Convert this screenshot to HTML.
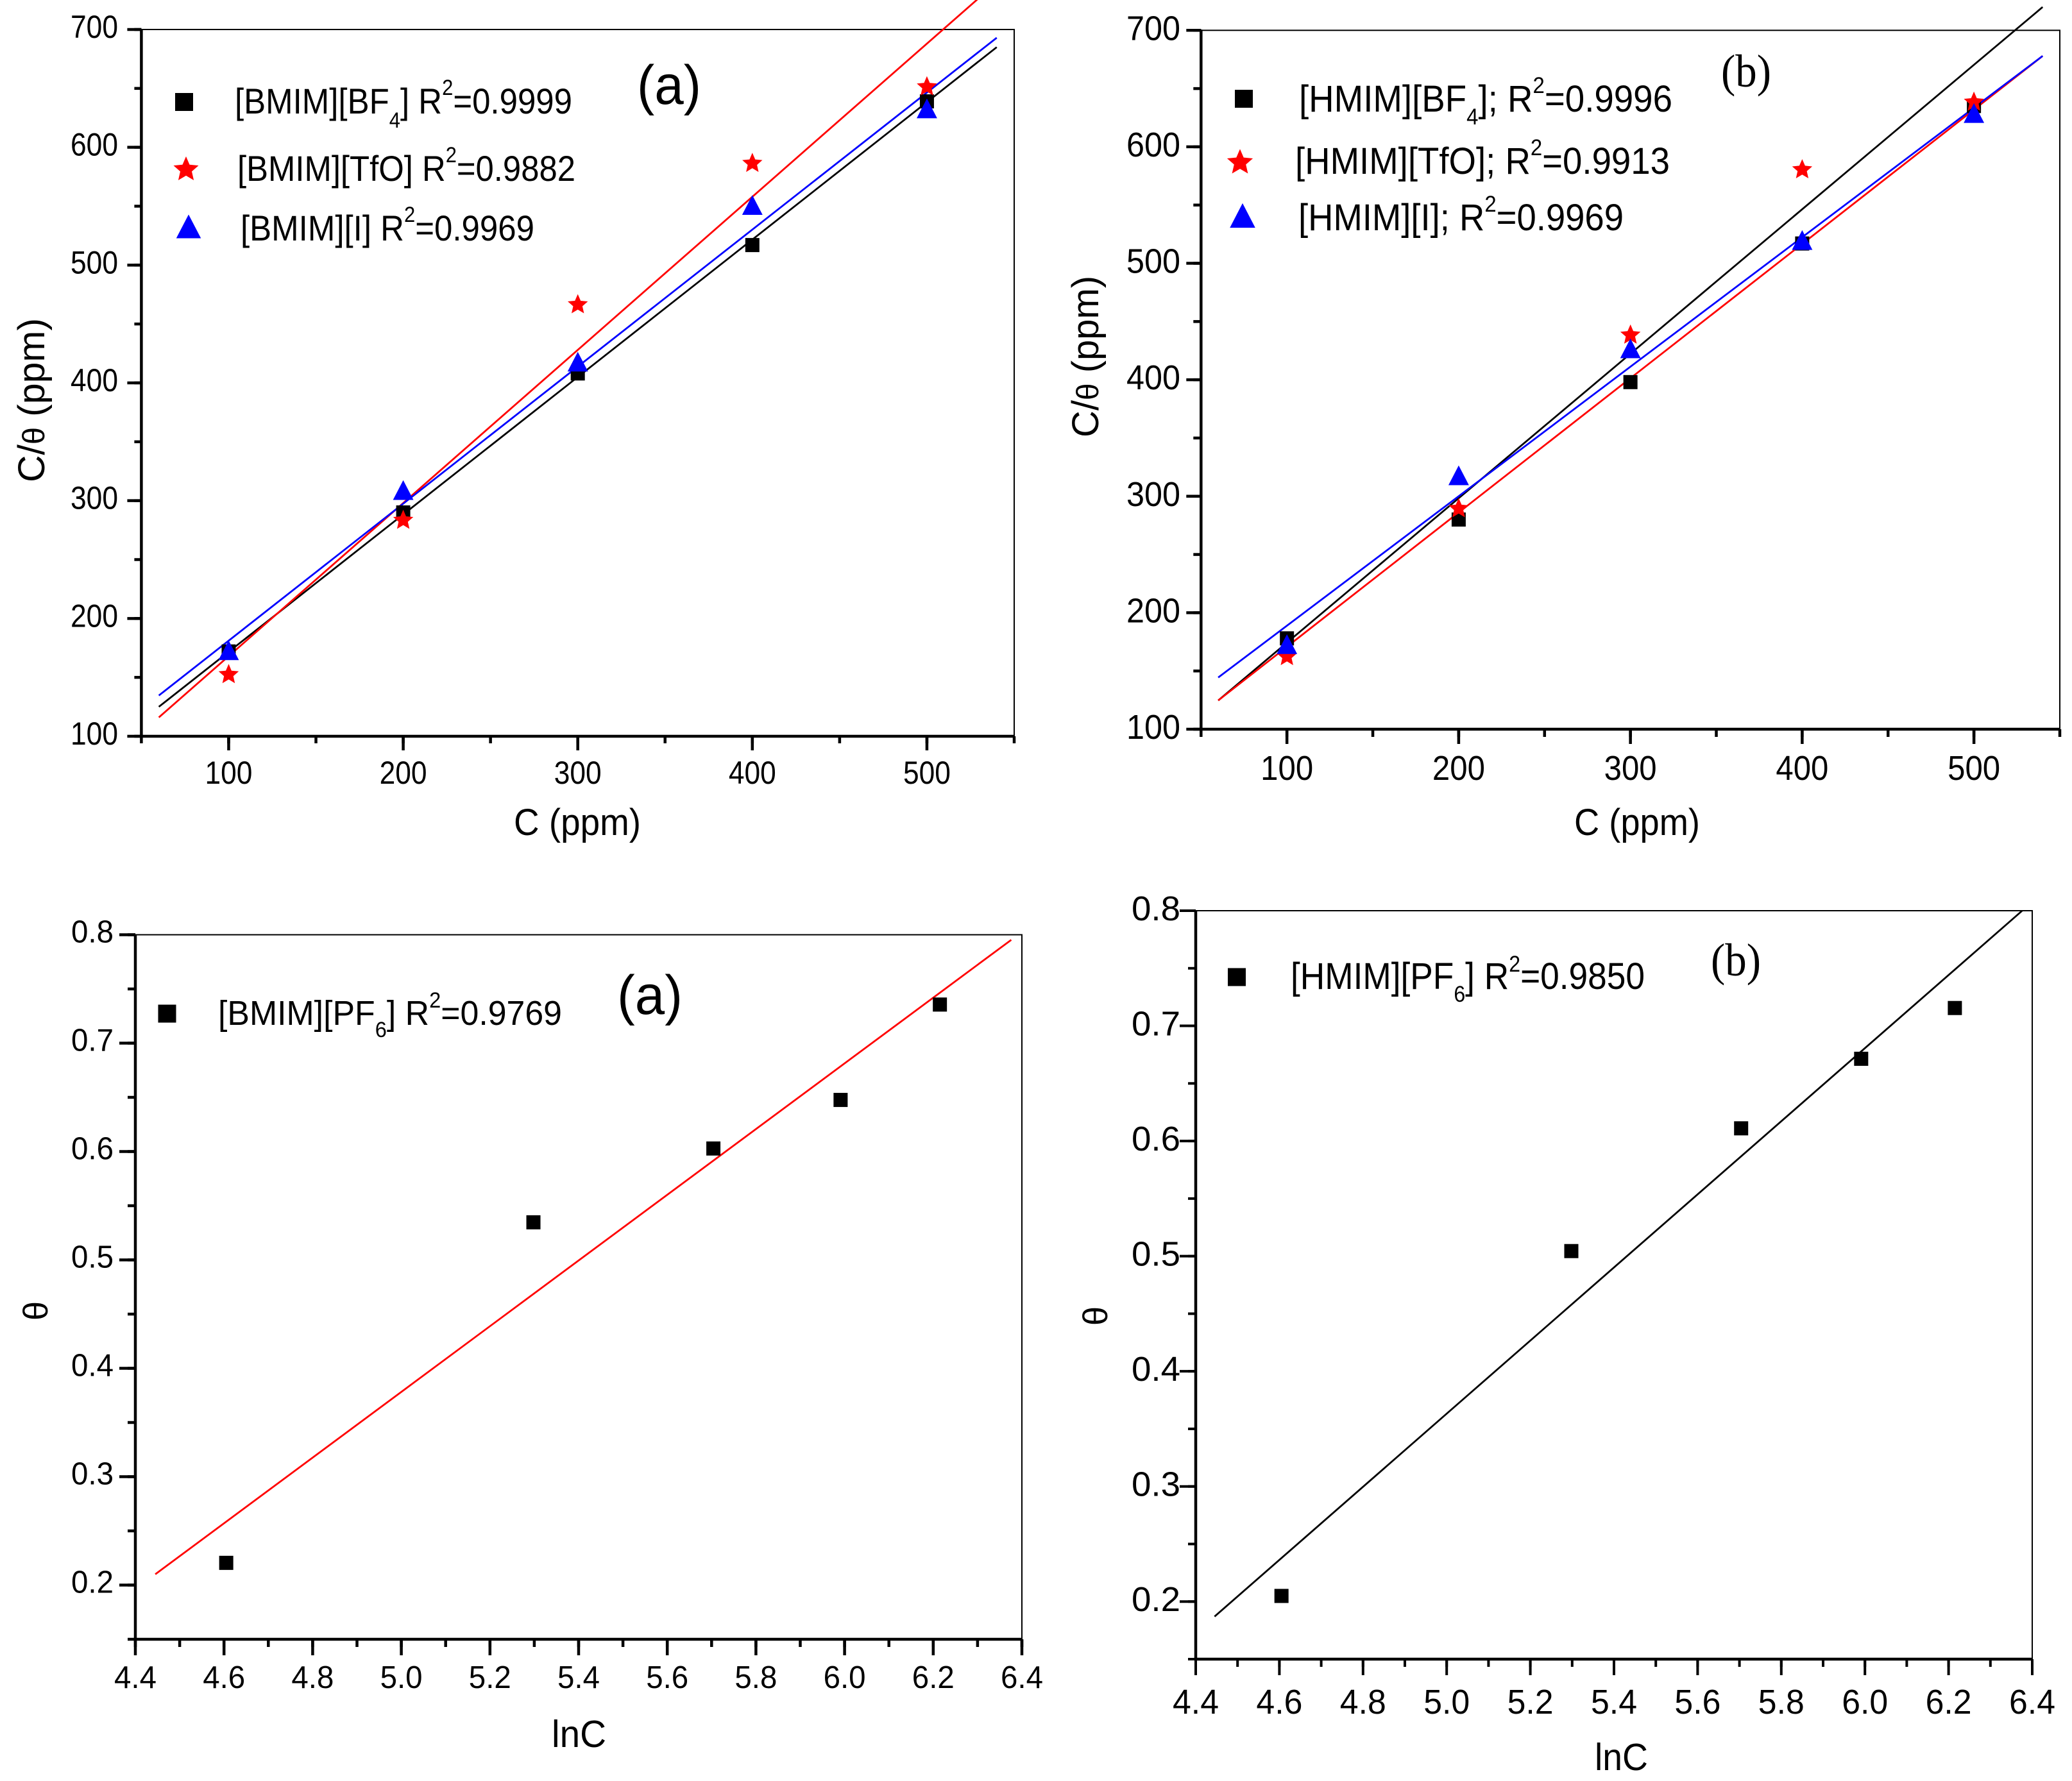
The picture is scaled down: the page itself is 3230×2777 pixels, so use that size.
<!DOCTYPE html>
<html lang="en">
<head>
<meta charset="utf-8">
<title>Adsorption isotherm plots</title>
<style>
html,body{margin:0;padding:0;background:#fff;}
svg{display:block;}
text{font-family:"Liberation Sans",Arial,sans-serif;fill:#000;}
.serif{font-family:"Liberation Serif","Times New Roman",serif;}
</style>
</head>
<body>
<svg id="figure" xmlns="http://www.w3.org/2000/svg" width="3230" height="2777" viewBox="0 0 3230 2777">
  <rect x="0" y="0" width="3230" height="2777" fill="#fff"/>
  <g id="marks"></g>

  <g>
    <text x="993" y="162" font-size="86" textLength="100" lengthAdjust="spacingAndGlyphs">(a)</text>
    <text x="801" y="1302" font-size="58" textLength="198" lengthAdjust="spacingAndGlyphs">C (ppm)</text>
    <text transform="translate(69,624) rotate(-90)" text-anchor="middle" font-size="58" textLength="256" lengthAdjust="spacingAndGlyphs">C/<tspan font-size="48">θ</tspan> (ppm)</text>
    <text x="366" y="177" font-size="56" textLength="526" lengthAdjust="spacingAndGlyphs">[BMIM][BF<tspan font-size="34" dy="22">4</tspan><tspan dy="-22">]</tspan> R<tspan font-size="34" dy="-29">2</tspan><tspan dy="29">=0.9999</tspan></text>
    <text x="370" y="282" font-size="56" textLength="527" lengthAdjust="spacingAndGlyphs">[BMIM][TfO] R<tspan font-size="34" dy="-29">2</tspan><tspan dy="29">=0.9882</tspan></text>
    <text x="375" y="375" font-size="56" textLength="458" lengthAdjust="spacingAndGlyphs">[BMIM][I] R<tspan font-size="34" dy="-29">2</tspan><tspan dy="29">=0.9969</tspan></text>
  </g>

  <g>
    <text class="serif" x="2683" y="135" font-size="72" textLength="78" lengthAdjust="spacingAndGlyphs">(b)</text>
    <text x="2454" y="1302" font-size="58" textLength="196" lengthAdjust="spacingAndGlyphs">C (ppm)</text>
    <text transform="translate(1712,556) rotate(-90)" text-anchor="middle" font-size="58" textLength="252" lengthAdjust="spacingAndGlyphs">C/<tspan font-size="48">θ</tspan> (ppm)</text>
    <text x="2025" y="174" font-size="58" textLength="582" lengthAdjust="spacingAndGlyphs">[HMIM][BF<tspan font-size="35" dy="20">4</tspan><tspan dy="-20">];</tspan> R<tspan font-size="35" dy="-29">2</tspan><tspan dy="29">=0.9996</tspan></text>
    <text x="2019" y="271" font-size="58" textLength="584" lengthAdjust="spacingAndGlyphs">[HMIM][TfO]; R<tspan font-size="35" dy="-29">2</tspan><tspan dy="29">=0.9913</tspan></text>
    <text x="2024" y="359" font-size="58" textLength="507" lengthAdjust="spacingAndGlyphs">[HMIM][I]; R<tspan font-size="35" dy="-29">2</tspan><tspan dy="29">=0.9969</tspan></text>
  </g>

  <g>
    <text x="962" y="1581" font-size="86" textLength="102" lengthAdjust="spacingAndGlyphs">(a)</text>
    <text x="860" y="2724" font-size="59" textLength="85" lengthAdjust="spacingAndGlyphs">lnC</text>
    <text transform="translate(74,2044) rotate(-90)" text-anchor="middle" font-size="54">θ</text>
    <text x="340" y="1598" font-size="54" textLength="536" lengthAdjust="spacingAndGlyphs">[BMIM][PF<tspan font-size="34" dy="19">6</tspan><tspan dy="-19">]</tspan> R<tspan font-size="34" dy="-27">2</tspan><tspan dy="27">=0.9769</tspan></text>
  </g>

  <g>
    <text class="serif" x="2667" y="1521" font-size="72" textLength="78" lengthAdjust="spacingAndGlyphs">(b)</text>
    <text x="2486" y="2760" font-size="59" textLength="83" lengthAdjust="spacingAndGlyphs">lnC</text>
    <text transform="translate(1726,2052) rotate(-90)" text-anchor="middle" font-size="54">θ</text>
    <text x="2012" y="1542" font-size="58" textLength="552" lengthAdjust="spacingAndGlyphs">[HMIM][PF<tspan font-size="35" dy="20">6</tspan><tspan dy="-20">]</tspan> R<tspan font-size="35" dy="-27">2</tspan><tspan dy="27">=0.9850</tspan></text>
  </g>
</svg>

<script>
// ---- shared x categories ----
const concentrations = [100, 200, 300, 400, 500];
const lnConcentrations = [4.605, 5.298, 5.704, 5.991, 6.215];

// ---- tick labels ----
const concTicks = [100, 200, 300, 400, 500];
const concTickLabels = ['100', '200', '300', '400', '500'];
const cThetaTicks = [100, 200, 300, 400, 500, 600, 700];
const cThetaTickLabels = ['100', '200', '300', '400', '500', '600', '700'];
const lnCTicks = [4.4, 4.6, 4.8, 5.0, 5.2, 5.4, 5.6, 5.8, 6.0, 6.2, 6.4];
const lnCTickLabels = ['4.4', '4.6', '4.8', '5.0', '5.2', '5.4', '5.6', '5.8', '6.0', '6.2', '6.4'];
const thetaTicks = [0.2, 0.3, 0.4, 0.5, 0.6, 0.7, 0.8];
const thetaTickLabels = ['0.2', '0.3', '0.4', '0.5', '0.6', '0.7', '0.8'];

// ---- top-left panel values ----
const bmimBf4Values = [172, 290, 408, 517, 639];
const bmimTfoValues = [153, 284, 467, 587, 652];
const bmimIValues = [173, 309, 418, 551, 633];
const fitRangeC = [60, 540];
const bmimBf4Fit = [125, 685];
const bmimTfoFit = [116, 740];
const bmimIFit = [134.6, 693];

// ---- top-right panel values ----
const hmimBf4Values = [178, 280, 398, 517, 635];
const hmimTfoValues = [163, 290, 439, 581, 639];
const hmimIValues = [173, 318, 427, 520, 629];
const hmimBf4Fit = [124.7, 720];
const hmimTfoFit = [124.7, 678];
const hmimIFit = [144.4, 678];

// ---- bottom panels values ----
const bmimPf6Theta = [0.2205, 0.5347, 0.6028, 0.6476, 0.7356];
const bmimPf6FitX = [4.445, 6.376];
const bmimPf6FitY = [0.21, 0.7953];
const hmimPf6Theta = [0.2049, 0.5044, 0.611, 0.6714, 0.7155];
const hmimPf6FitX = [4.445, 6.376];
const hmimPf6FitY = [0.187, 0.8];

// ---- legend marker keys ----
const bmimLegendKeys = ['square', 'star', 'triangle'];

const NS = 'http://www.w3.org/2000/svg';
const root = document.getElementById('marks');

function make(tag, parent) {
  const el = document.createElementNS(NS, tag);
  parent.appendChild(el);
  return el;
}
function setAll(el, attrs) {
  Object.keys(attrs).forEach(function (k) { el.setAttribute(k, attrs[k]); });
}
function linearScale(d0, d1, r0, r1) {
  return function (v) { return r0 + (v - d0) * (r1 - r0) / (d1 - d0); };
}
function starPoints(cx, cy, r) {
  const pts = [];
  for (let i = 0; i < 10; i++) {
    const rad = i % 2 === 0 ? r : r * 0.46;
    const a = -Math.PI / 2 + i * Math.PI / 5;
    pts.push((cx + rad * Math.cos(a)).toFixed(1) + ',' + (cy + rad * Math.sin(a)).toFixed(1));
  }
  return pts.join(' ');
}
function drawSymbol(parent, kind, cx, cy, size, color) {
  let el;
  if (kind === 'square') {
    el = make('rect', parent);
    setAll(el, { x: cx - size / 2, y: cy - size / 2, width: size, height: size, fill: color });
  } else if (kind === 'star') {
    el = make('polygon', parent);
    setAll(el, { points: starPoints(cx, cy + size * 0.04, size * 0.57), fill: color });
  } else {
    el = make('polygon', parent);
    const h = size * 1.06;
    setAll(el, {
      points: cx + ',' + (cy - h / 2) + ' ' + (cx + size * 0.55) + ',' + (cy + h / 2) + ' ' + (cx - size * 0.55) + ',' + (cy + h / 2),
      fill: color
    });
  }
  return el;
}

function drawPanel(p) {
  const g = make('g', root);
  
  
  const sx = linearScale(p.xDomain[0], p.xDomain[1], p.left, p.right);
  const sy = linearScale(p.yDomain[0], p.yDomain[1], p.bottom, p.top);

  // thin frame
  const frame = make('rect', g);
  setAll(frame, { x: p.left, y: p.top, width: p.right - p.left, height: p.bottom - p.top, fill: 'none', stroke: '#000', 'stroke-width': 2 });
  
  

  // minor ticks
  for (let v = p.xDomain[0]; v <= p.xDomain[1] + 1e-6; v += p.xMinorStep) {
    const t = make('line', g);
    const x = sx(v);
    setAll(t, { x1: x, x2: x, y1: p.bottom, y2: p.bottom + p.minorLen, stroke: '#000', 'stroke-width': p.tickW });
    
    
  }
  for (let v = p.yDomain[0]; v <= p.yDomain[1] + 1e-6; v += p.yMinorStep) {
    const t = make('line', g);
    const y = sy(v);
    setAll(t, { x1: p.left - p.minorLen, x2: p.left, y1: y, y2: y, stroke: '#000', 'stroke-width': p.tickW });
    
    
  }
  // major ticks + labels
  p.xTicks.forEach(function (v, i) {
    const x = sx(v);
    const t = make('line', g);
    setAll(t, { x1: x, x2: x, y1: p.bottom, y2: p.bottom + p.majorLen, stroke: '#000', 'stroke-width': p.tickW });
    
    
    const l = make('text', g);
    setAll(l, { x: x, y: p.xLabelY, 'text-anchor': 'middle', 'font-size': p.fontSize, textLength: p.xLabelW, lengthAdjust: 'spacingAndGlyphs' });
    l.textContent = p.xLabels[i];
    
    
  });
  p.yTicks.forEach(function (v, i) {
    const y = sy(v);
    const t = make('line', g);
    setAll(t, { x1: p.left - p.majorLen, x2: p.left, y1: y, y2: y, stroke: '#000', 'stroke-width': p.tickW });
    
    
    const l = make('text', g);
    setAll(l, { x: p.yLabelRight, y: y + p.yLabelDy, 'text-anchor': 'end', 'font-size': p.fontSize, textLength: p.yLabelW, lengthAdjust: 'spacingAndGlyphs' });
    l.textContent = p.yLabels[i];
    
    
  });
  // thick axis lines
  const ax = make('line', g);
  setAll(ax, { x1: p.left - p.axisW / 2, x2: p.right + 1, y1: p.bottom, y2: p.bottom, stroke: '#000', 'stroke-width': p.axisW });
  
  
  const ay = make('line', g);
  setAll(ay, { x1: p.left, x2: p.left, y1: p.top - 1, y2: p.bottom, stroke: '#000', 'stroke-width': p.axisW });
  
  

  // fit lines
  p.series.forEach(function (s) {
    if (!s.fitY) return;
    const ln = make('line', g);
    setAll(ln, { x1: sx(s.fitX[0]), y1: sy(s.fitY[0]), x2: sx(s.fitX[1]), y2: sy(s.fitY[1]), stroke: s.lineColor, 'stroke-width': 2.8 });
    
    
  });
  // data points
  p.series.forEach(function (s) {
    s.values.forEach(function (v, i) {
      const mk = drawSymbol(g, s.symbol, sx(p.xs[i]), sy(v), s.symbol === 'square' ? 22 : 29, s.color);
      
      
    });
  });
  // legend keys
  p.legend.forEach(function (k) {
    const mk = drawSymbol(g, k.symbol, k.x, k.y, k.size, k.color);
    
    
  });
}

drawPanel({
  name: 'plot-bmim-langmuir',
  left: 220.4, right: 1581, top: 46, bottom: 1148,
  xDomain: [50, 550], yDomain: [100, 700], xMinorStep: 50, yMinorStep: 50,
  xTicks: concTicks, xLabels: concTickLabels, yTicks: cThetaTicks, yLabels: cThetaTickLabels,
  xs: concentrations, axisW: 4.5, tickW: 4.5, majorLen: 22, minorLen: 11, fontSize: 50,
  xLabelY: 1222, xLabelW: 74, yLabelRight: 184, yLabelDy: 13, yLabelW: 74,
  series: [
    { key: 'bmim-bf4', symbol: 'square', color: '#000', lineColor: '#000', values: bmimBf4Values, fitX: fitRangeC, fitY: bmimBf4Fit },
    { key: 'bmim-tfo', symbol: 'star', color: '#f00', lineColor: '#f00', values: bmimTfoValues, fitX: fitRangeC, fitY: bmimTfoFit },
    { key: 'bmim-i', symbol: 'triangle', color: '#00f', lineColor: '#00f', values: bmimIValues, fitX: fitRangeC, fitY: bmimIFit }
  ],
  legend: [
    { symbol: bmimLegendKeys[0], x: 287, y: 159, size: 28, color: '#000' },
    { symbol: bmimLegendKeys[1], x: 290, y: 263, size: 36, color: '#f00' },
    { symbol: bmimLegendKeys[2], x: 294, y: 353, size: 35, color: '#00f' }
  ]
});

drawPanel({
  name: 'plot-hmim-langmuir',
  left: 1872.3, right: 3211, top: 47.3, bottom: 1137,
  xDomain: [50, 550], yDomain: [100, 700], xMinorStep: 50, yMinorStep: 50,
  xTicks: concTicks, xLabels: concTickLabels, yTicks: cThetaTicks, yLabels: cThetaTickLabels,
  xs: concentrations, axisW: 4.5, tickW: 4.5, majorLen: 23, minorLen: 12, fontSize: 54,
  xLabelY: 1216, xLabelW: 82, yLabelRight: 1840, yLabelDy: 15, yLabelW: 84,
  series: [
    { key: 'hmim-bf4', symbol: 'square', color: '#000', lineColor: '#000', values: hmimBf4Values, fitX: fitRangeC, fitY: hmimBf4Fit },
    { key: 'hmim-tfo', symbol: 'star', color: '#f00', lineColor: '#f00', values: hmimTfoValues, fitX: fitRangeC, fitY: hmimTfoFit },
    { key: 'hmim-i', symbol: 'triangle', color: '#00f', lineColor: '#00f', values: hmimIValues, fitX: fitRangeC, fitY: hmimIFit }
  ],
  legend: [
    { symbol: bmimLegendKeys[0], x: 1939, y: 154, size: 28, color: '#000' },
    { symbol: bmimLegendKeys[1], x: 1933, y: 252, size: 37, color: '#f00' },
    { symbol: bmimLegendKeys[2], x: 1937, y: 336, size: 36, color: '#00f' }
  ]
});

drawPanel({
  name: 'plot-bmim-temkin',
  left: 211, right: 1593, top: 1457.5, bottom: 2556,
  xDomain: [4.4, 6.4], yDomain: [0.15, 0.8], xMinorStep: 0.1, yMinorStep: 0.05,
  xTicks: lnCTicks, xLabels: lnCTickLabels, yTicks: thetaTicks, yLabels: thetaTickLabels,
  xs: lnConcentrations, axisW: 4.5, tickW: 4.5, majorLen: 25, minorLen: 12, fontSize: 49,
  xLabelY: 2632, xLabelW: 66, yLabelRight: 177, yLabelDy: 12, yLabelW: 66,
  series: [
    { key: 'bmim-pf6', symbol: 'square', color: '#000', lineColor: '#f00', values: bmimPf6Theta, fitX: bmimPf6FitX, fitY: bmimPf6FitY }
  ],
  legend: [
    { symbol: 'square', x: 260.5, y: 1580.5, size: 28, color: '#000' }
  ]
});

drawPanel({
  name: 'plot-hmim-temkin',
  left: 1864, right: 3168, top: 1420, bottom: 2587,
  xDomain: [4.4, 6.4], yDomain: [0.15, 0.8], xMinorStep: 0.1, yMinorStep: 0.05,
  xTicks: lnCTicks, xLabels: lnCTickLabels, yTicks: thetaTicks, yLabels: thetaTickLabels,
  xs: lnConcentrations, axisW: 4.5, tickW: 4, majorLen: 25, minorLen: 12, fontSize: 54,
  xLabelY: 2672, xLabelW: 72, yLabelRight: 1840, yLabelDy: 15, yLabelW: 76,
  series: [
    { key: 'hmim-pf6', symbol: 'square', color: '#000', lineColor: '#000', values: hmimPf6Theta, fitX: hmimPf6FitX, fitY: hmimPf6FitY }
  ],
  legend: [
    { symbol: 'square', x: 1928, y: 1523.5, size: 28, color: '#000' }
  ]
});
</script>
</body>
</html>
